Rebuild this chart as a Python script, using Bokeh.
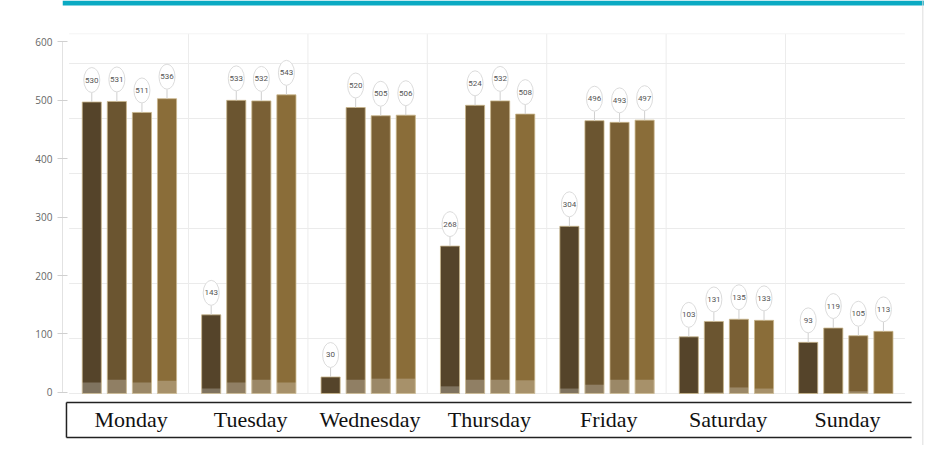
from bokeh.plotting import figure
from bokeh.models import Range1d, LinearAxis, FixedTicker, Span, BoxAnnotation
from bokeh.core.properties import value
from bokeh.embed import file_html
from bokeh.resources import INLINE

# ---- data ----
days = ["Monday", "Tuesday", "Wednesday", "Thursday", "Friday", "Saturday", "Sunday"]
series_1 = [530, 143, 30, 268, 304, 103, 93]
series_2 = [531, 533, 520, 524, 496, 131, 119]
series_3 = [511, 532, 505, 532, 493, 135, 105]
series_4 = [536, 543, 506, 508, 497, 133, 113]
base_1 = [20, 9, 0, 13, 9, 0, 0]
base_2 = [25, 20, 25, 25, 16, 2, 0]
base_3 = [20, 25, 27, 25, 25, 11, 4]
base_4 = [23, 20, 27, 24, 25, 9, 0]
y_ticks = [0, 100, 200, 300, 400, 500, 600]

series = [series_1, series_2, series_3, series_4]
bases = [base_1, base_2, base_3, base_4]
colors = ["#55442A", "#6B5530", "#7A6035", "#8A6D39"]

p = figure(width=924, height=445, output_backend="svg", toolbar_location=None,
           x_range=Range1d(-0.0553, 7.164), y_range=Range1d(-94.55, 714.55),
           x_axis_location=None, y_axis_location=None,
           min_border_left=62, min_border_right=0, min_border_top=0, min_border_bottom=0,
           outline_line_color=None, background_fill_color="white", border_fill_color="white")
p.grid.visible = False

p.extra_y_ranges = {"ax": Range1d(-90.6, 670.09)}
ax = LinearAxis(y_range_name="ax", ticker=FixedTicker(ticks=y_ticks), bounds=(0, 600),
                axis_line_color="#e2e2e2", major_tick_line_color="#d0d0d0",
                major_tick_in=5, major_tick_out=5, minor_tick_line_color=None,
                major_label_text_font_size="10px", major_label_text_color="#666666",
                major_label_text_font="Open Sans", major_label_standoff=5)
p.add_layout(ax, "left")

n = len(days)
# grid lines
p.segment(x0=[0] * len(y_ticks), y0=y_ticks, x1=[n] * len(y_ticks), y1=y_ticks,
          line_color="#ebebeb", line_width=1)
p.segment(x0=list(range(1, n)), y0=[0] * (n - 1), x1=list(range(1, n)), y1=[654] * (n - 1),
          line_color="#ececec", line_width=1)
p.segment(x0=[0], y0=[654], x1=[n], y1=[654], line_color="#f4f4f4", line_width=1)

# bars
for j, (vals, base, col) in enumerate(zip(series, bases, colors)):
    xs = [i + 0.19 + 0.21 * j for i in range(n)]
    p.vbar(x=xs, top=vals, bottom=0, width=0.16, fill_color=col,
           line_color="#c9b68c", line_width=0.8)
    p.vbar(x=xs, top=base, bottom=0, width=0.16, fill_color="white", fill_alpha=0.25,
           line_color=None)
    # callouts
    p.segment(x0=xs, y0=vals, x1=xs, y1=[v + 17 for v in vals],
              line_color="#cfcfcf", line_width=1)
    p.ellipse(x=xs, y=[v + 40 for v in vals], width=16, height=25,
              width_units="screen", height_units="screen",
              fill_color="white", line_color="#dcdcdc", line_width=1)
    p.text(x=xs, y=[v + 40 for v in vals], text=[str(v) for v in vals],
           text_font=value("Roboto"), text_font_size="8px", text_color="#555555",
           text_align="center", text_baseline="middle")

# category box
p.segment(x0=[-0.022, -0.022], y0=[-16.4, -80], x1=[7.056, 7.056], y1=[-16.4, -80],
          line_color="#222222", line_width=1.5)
p.segment(x0=[-0.022], y0=[-16.4], x1=[-0.022], y1=[-80], line_color="#222222", line_width=1.5)
p.text(x=[i + 0.52 for i in range(n)], y=[-47] * n, text=days,
       text_font=value("Liberation Serif"), text_font_size="22px", text_color="#111111",
       text_align="center", text_baseline="alphabetic")

# decorations
p.add_layout(BoxAnnotation(bottom=705.45, fill_color="#0AAAC3", fill_alpha=1, line_color=None))
p.add_layout(Span(location=7.15, dimension="height", line_color="#dddddd", line_width=1))

open("out.html", "w").write(file_html(p, INLINE))
